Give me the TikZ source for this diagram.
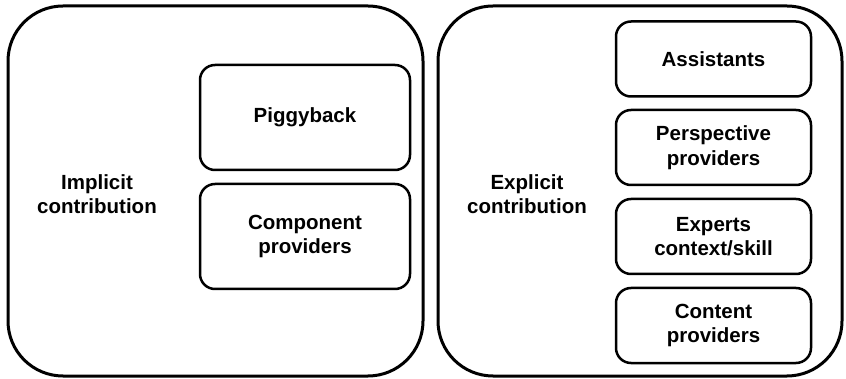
\documentclass[tikz,border=0pt]{standalone}
\usepackage{fontspec}
\setmainfont{Liberation Sans}
\begin{document}
\begin{tikzpicture}[x=1pt,y=-1pt,
  panel/.style={draw, line width=3pt, rounded corners=55pt, inner sep=0pt},
  item/.style={draw, line width=2.5pt, rounded corners=15pt, inner sep=0pt,
    minimum width=210pt, align=center, font=\bfseries\fontsize{20.5}{24.5}\selectfont},
  ritem/.style={item, minimum width=195pt, minimum height=75pt},
  caption/.style={align=center, font=\bfseries\fontsize{20.5}{24.5}\selectfont}]
\useasboundingbox (0,0) rectangle (846,379);
% two outer panels
\node[panel, minimum width=415pt, minimum height=370pt] (implicit) at (215.5,191) {};
\node[panel, minimum width=404pt, minimum height=370pt] (explicit) at (640,191) {};
% panel captions
\node[caption] (implicitlbl) at (97,194) {Implicit\\contribution};
\node[caption] (explicitlbl) at (527,194) {Explicit\\contribution};
% implicit contributions
\node[item, minimum height=105pt] (piggy) at (305,117.5) {Piggyback};
\node[item, minimum height=105pt] (component) at (305,236.5) {Component\\providers};
% explicit contributions
\node[ritem] (assist) at (713.5,59) {Assistants};
\node[ritem] (persp) at (713.5,147.5) {Perspective\\providers};
\node[ritem] (experts) at (713.5,236.5) {Experts\\context/skill};
\node[ritem] (content) at (713.5,325.5) {Content\\providers};
\end{tikzpicture}
\end{document}
